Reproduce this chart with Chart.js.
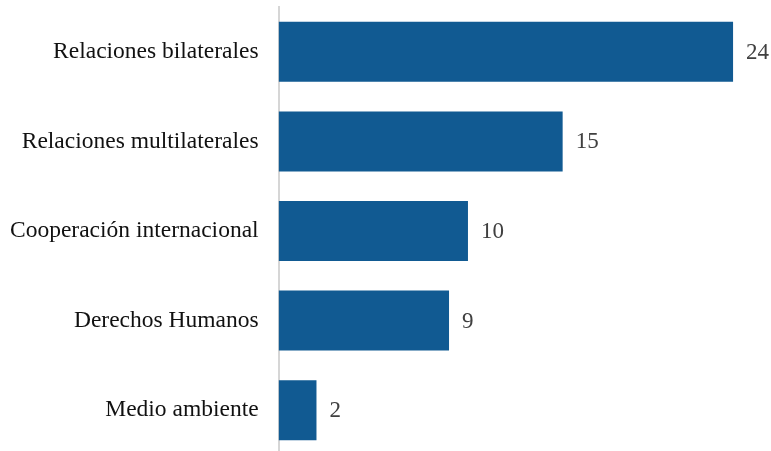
<!DOCTYPE html>
<html>
<head>
<meta charset="utf-8">
<script src="https://cdn.jsdelivr.net/npm/chart.js@4"></script>
<style>
  html, body { margin: 0; padding: 0; background: #fff; overflow: hidden; }
  canvas { display: block; }
</style>
</head>
<body>
<canvas id="grafico" width="771" height="455"></canvas>
<script>
const categorias = [
  "Relaciones bilaterales",
  "Relaciones multilaterales",
  "Cooperación internacional",
  "Derechos Humanos",
  "Medio ambiente"
];
const valores = [24, 15, 10, 9, 2];

// etiquetas de valor al final de cada barra
const etiquetasValor = {
  id: "etiquetasValor",
  afterDatasetsDraw(chart) {
    const ctx = chart.ctx;
    const meta = chart.getDatasetMeta(0);
    ctx.save();
    ctx.font = "23px 'Liberation Serif'";
    ctx.fillStyle = "#404040";
    ctx.textAlign = "left";
    ctx.textBaseline = "middle";
    meta.data.forEach((barra, i) => {
      ctx.fillText(String(valores[i]), barra.x + 13, barra.y + 1);
    });
    ctx.restore();
  }
};

const grafico = new Chart(document.getElementById("grafico"), {
  type: "bar",
  data: {
    labels: categorias,
    datasets: [
      {
        data: valores,
        backgroundColor: "#115a92",
        borderWidth: 0,
        categoryPercentage: 1,
        barPercentage: 0.67
      }
    ]
  },
  options: {
    indexAxis: "y",
    responsive: false,
    animation: false,
    layout: { padding: { top: 7, bottom: 0, right: 19, left: -10 } },
    plugins: {
      legend: { display: false },
      tooltip: { enabled: false }
    },
    scales: {
      x: {
        min: 0,
        max: 25,
        display: false,
        grid: { display: false }
      },
      y: {
        grid: { display: false, drawTicks: false },
        border: { display: true, color: "#d6d6d6", width: 2 },
        ticks: {
          color: "#111",
          padding: 20,
          font: { family: "'Liberation Serif'", size: 23.5 }
        },
        afterFit(escala) {
          // sin margen extra arriba y abajo por las etiquetas
          escala.paddingTop = 0;
          escala.paddingBottom = 0;
        }
      }
    }
  },
  plugins: [etiquetasValor]
});
</script>
</body>
</html>
